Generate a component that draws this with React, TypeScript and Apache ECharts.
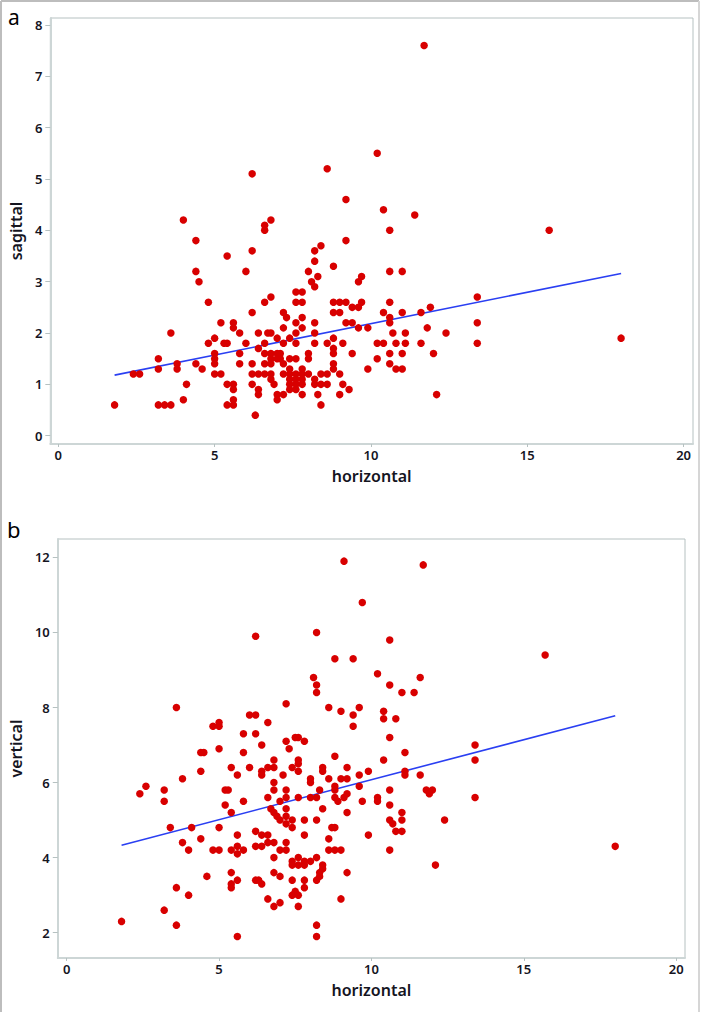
import React, { useEffect, useRef } from "react";
import * as echarts from "echarts";

// Panel a: horizontal vs sagittal
const sagittalPoints: [number, number][] = [
  [1.8, 0.6], [2.4, 1.2], [2.6, 1.2], [3.2, 1.5], [3.2, 1.3], [3.2, 0.6], [3.4, 0.6], [3.6, 0.6], [3.6, 2.0],
  [3.8, 1.4], [3.8, 1.3], [4.0, 0.7], [4.1, 1.0], [4.4, 1.4], [4.4, 3.2], [4.5, 3.0], [4.6, 1.3], [4.0, 4.2], [4.4, 3.8],
  [4.8, 2.6], [4.8, 1.8], [5.0, 1.9], [5.0, 1.6], [5.0, 1.5], [5.0, 1.4], [5.0, 1.2], [5.2, 1.2], [5.2, 2.2], [5.3, 1.8],
  [5.4, 1.8], [5.4, 3.5], [5.4, 1.0], [5.4, 0.6], [5.6, 2.2], [5.6, 2.1], [5.6, 1.0], [5.6, 0.9], [5.6, 0.7], [5.6, 0.6],
  [5.8, 2.0], [5.8, 1.6], [5.8, 1.4], [6.0, 3.2], [6.0, 1.8], [6.2, 5.1], [6.2, 3.6], [6.2, 2.4], [6.2, 1.4], [6.2, 1.2],
  [6.2, 1.0], [6.3, 0.4], [6.4, 2.0], [6.4, 1.7], [6.4, 1.2], [6.4, 0.9], [6.4, 0.8],
  [6.6, 4.1], [6.6, 4.0], [6.6, 2.6], [6.6, 1.8], [6.6, 1.6], [6.6, 1.4], [6.6, 1.2], [6.7, 2.0], [6.8, 4.2], [6.8, 2.7],
  [6.8, 2.0], [6.8, 1.6], [6.8, 1.5], [6.8, 1.4], [6.8, 1.2], [6.8, 1.1], [6.9, 1.0],
  [7.0, 1.9], [7.0, 1.6], [7.0, 1.5], [7.0, 0.8], [7.0, 0.7], [7.1, 1.6], [7.1, 1.5], [7.2, 2.4], [7.2, 2.1], [7.2, 1.8],
  [7.2, 1.4], [7.2, 1.2], [7.2, 0.8], [7.3, 2.3],
  [7.4, 1.9], [7.4, 1.5], [7.4, 1.3], [7.4, 1.2], [7.4, 1.1], [7.4, 1.0], [7.4, 0.9], [7.6, 2.8], [7.6, 2.6], [7.6, 2.2],
  [7.6, 2.0], [7.6, 1.8], [7.6, 1.5], [7.6, 1.2], [7.6, 1.1], [7.6, 1.0], [7.6, 0.9],
  [7.8, 2.8], [7.8, 2.6], [7.8, 2.3], [7.8, 2.1], [7.8, 1.3], [7.8, 1.2], [7.8, 1.1], [7.8, 1.0], [7.8, 0.8],
  [8.0, 3.2], [8.0, 1.6], [8.0, 1.5], [8.0, 1.2],
  [8.1, 3.0], [8.2, 3.6], [8.2, 3.4], [8.2, 2.9], [8.2, 2.2], [8.2, 2.0], [8.2, 1.8], [8.2, 1.1], [8.2, 1.0], [8.3, 3.1],
  [8.3, 0.8], [8.4, 3.7], [8.4, 1.2], [8.4, 1.0], [8.4, 0.6], [8.6, 5.2], [8.6, 1.8], [8.6, 1.2], [8.6, 1.0],
  [8.8, 3.3], [8.8, 2.6], [8.8, 2.4], [8.8, 1.9], [8.8, 1.7], [8.8, 1.6], [8.8, 1.4], [8.8, 1.3], [9.0, 2.6], [9.0, 2.4],
  [9.0, 1.2], [9.0, 0.8], [9.1, 1.8], [9.1, 1.0], [9.2, 4.6], [9.2, 3.8], [9.2, 2.6], [9.2, 2.2], [9.3, 0.9],
  [9.4, 2.5], [9.4, 2.2], [9.4, 1.6], [9.6, 3.0], [9.6, 2.5], [9.6, 2.1], [9.7, 3.1], [9.7, 2.6], [9.9, 2.1], [9.9, 1.3],
  [10.2, 5.5], [10.2, 1.8], [10.2, 1.5], [10.4, 4.4], [10.4, 2.4], [10.4, 1.8], [10.6, 4.0], [10.6, 3.2], [10.6, 2.6],
  [10.6, 2.3], [10.6, 2.2], [10.6, 1.6], [10.6, 1.4], [10.7, 2.0], [10.8, 1.8], [10.8, 1.3],
  [11.0, 3.2], [11.0, 2.4], [11.0, 1.6], [11.0, 1.3], [11.1, 2.0], [11.1, 1.8], [11.4, 4.3], [11.6, 2.4], [11.6, 1.8],
  [11.7, 7.6], [11.8, 2.1], [11.9, 2.5], [12.0, 1.6], [12.1, 0.8], [12.4, 2.0],
  [13.4, 2.7], [13.4, 2.2], [13.4, 1.8], [15.7, 4.0], [18.0, 1.9],
];

// Panel b: horizontal vs vertical
const verticalPoints: [number, number][] = [
  [1.8, 2.3], [2.4, 5.7], [2.6, 5.9], [3.2, 5.8], [3.2, 5.5], [3.2, 2.6], [3.4, 4.8], [3.6, 8.0], [3.6, 3.2], [3.6, 2.2],
  [3.8, 6.1], [3.8, 4.4], [4.0, 4.2], [4.0, 3.0], [4.1, 4.8], [4.4, 6.3], [4.4, 4.5], [4.4, 6.8], [4.5, 6.8], [4.6, 3.5],
  [4.8, 7.5], [4.8, 4.2], [5.0, 7.6], [5.0, 7.5], [5.0, 6.9], [5.0, 4.8], [5.0, 4.2], [5.2, 5.8], [5.3, 5.8], [5.2, 5.4],
  [5.4, 6.4], [5.4, 5.2], [5.4, 4.2], [5.4, 3.6], [5.4, 3.3], [5.4, 3.2],
  [5.6, 6.2], [5.6, 4.6], [5.6, 4.3], [5.6, 4.1], [5.6, 3.4], [5.6, 1.9], [5.8, 7.3], [5.8, 6.8], [5.8, 5.5], [5.8, 4.2],
  [6.0, 7.8], [6.0, 6.4],
  [6.2, 9.9], [6.2, 7.8], [6.2, 7.3], [6.2, 4.7], [6.2, 4.3], [6.2, 3.4], [6.3, 3.4], [6.4, 7.0], [6.4, 6.3], [6.4, 6.2],
  [6.4, 4.6], [6.4, 4.3], [6.4, 3.3],
  [6.6, 7.6], [6.6, 6.4], [6.6, 5.6], [6.6, 4.6], [6.6, 4.4], [6.6, 2.9], [6.7, 5.3], [6.8, 6.6], [6.8, 6.4], [6.8, 6.0],
  [6.8, 5.8], [6.8, 5.2], [6.8, 4.4], [6.8, 4.0], [6.8, 3.6], [6.8, 2.7], [6.9, 5.1],
  [7.0, 5.5], [7.0, 5.0], [7.0, 4.2], [7.0, 3.5], [7.0, 2.8], [7.1, 6.2], [7.2, 8.1], [7.2, 7.1], [7.2, 5.8], [7.2, 5.6],
  [7.2, 5.3], [7.2, 5.1], [7.2, 4.9], [7.2, 4.4], [7.2, 4.2], [7.3, 6.9],
  [7.4, 6.4], [7.4, 5.0], [7.4, 4.8], [7.4, 3.9], [7.4, 3.8], [7.4, 3.4], [7.4, 3.0], [7.5, 7.2], [7.5, 3.1], [7.6, 7.2],
  [7.6, 6.6], [7.6, 6.5], [7.6, 6.3], [7.6, 5.6], [7.6, 4.0], [7.6, 3.8], [7.6, 3.0], [7.6, 2.7],
  [7.8, 7.1], [7.8, 5.0], [7.8, 4.6], [7.8, 3.9], [7.8, 3.8], [7.8, 3.4], [7.8, 3.2], [8.0, 6.1], [8.0, 6.0], [8.0, 5.6],
  [8.0, 3.9],
  [8.1, 8.8], [8.2, 10.0], [8.2, 8.6], [8.2, 8.4], [8.2, 5.6], [8.2, 5.0], [8.2, 4.0], [8.2, 3.4], [8.2, 2.2], [8.2, 1.9],
  [8.3, 5.8], [8.3, 3.6], [8.3, 3.5], [8.4, 6.4], [8.4, 6.3], [8.4, 5.3], [8.4, 3.8], [8.4, 3.7],
  [8.6, 8.0], [8.6, 6.1], [8.6, 4.5], [8.6, 4.2], [8.7, 4.8], [8.8, 9.3], [8.8, 6.7], [8.8, 5.9], [8.8, 5.8], [8.8, 5.6],
  [8.8, 4.8], [8.8, 4.2], [8.9, 5.5],
  [9.0, 7.9], [9.0, 6.1], [9.0, 4.2], [9.0, 2.9], [9.1, 11.9], [9.1, 5.6], [9.2, 6.4], [9.2, 6.1], [9.2, 5.7], [9.2, 5.2],
  [9.2, 3.6], [9.4, 9.3], [9.4, 7.8], [9.4, 7.5],
  [9.6, 8.0], [9.6, 6.2], [9.6, 5.9], [9.7, 10.8], [9.7, 5.5], [9.9, 6.3], [9.9, 4.6], [10.2, 8.9], [10.2, 5.6], [10.2, 5.5],
  [10.4, 7.9], [10.4, 7.7], [10.4, 6.6],
  [10.6, 9.8], [10.6, 8.6], [10.6, 7.2], [10.6, 5.8], [10.6, 5.4], [10.6, 5.0], [10.6, 4.2], [10.7, 4.9], [10.8, 7.7],
  [10.8, 4.7], [11.0, 8.4], [11.0, 5.2], [11.0, 5.0], [11.0, 4.7], [11.1, 6.8], [11.1, 6.3], [11.1, 6.2],
  [11.4, 8.4], [11.6, 8.8], [11.6, 6.2], [11.7, 11.8], [11.8, 5.8], [11.9, 5.7], [12.0, 5.8], [12.1, 3.8], [12.4, 5.0],
  [13.4, 7.0], [13.4, 6.6], [13.4, 5.6], [15.7, 9.4], [18.0, 4.3],
];

// Fitted regression lines (end points)
const sagittalFit: [number, number][] = [[1.8, 1.18], [18.0, 3.16]];
const verticalFit: [number, number][] = [[1.8, 4.33], [18.0, 7.78]];

// Tick labels
const horizontalTicks = [0, 5, 10, 15, 20];
const sagittalTicks = [0, 1, 2, 3, 4, 5, 6, 7, 8];
const verticalTicks = [2, 4, 6, 8, 10, 12];

const FONT = "'Noto Sans', 'Open Sans', sans-serif";
const AXIS_COLOR = "#cdd6d6";
const BORDER_COLOR = "#b6c1c1";
const TEXT_COLOR = "#15151f";
const POINT_COLOR = "#d80000";
const LINE_COLOR = "#2a3ff2";

function xAxisFor(gridIndex: number, min: number, max: number, nameGap: number) {
  return {
    type: "value",
    gridIndex,
    min,
    max,
    name: "horizontal",
    nameLocation: "middle",
    nameGap,
    nameTextStyle: { fontSize: 16, fontWeight: 600, color: TEXT_COLOR, fontFamily: FONT },
    axisLine: { show: true, onZero: false, lineStyle: { color: AXIS_COLOR, width: 2 } },
    axisTick: { show: true, length: 3, customValues: horizontalTicks, lineStyle: { color: BORDER_COLOR } },
    axisLabel: { customValues: horizontalTicks, margin: 4, fontSize: 13, fontWeight: 600, color: TEXT_COLOR, fontFamily: FONT },
    splitLine: { show: false },
  };
}

function yAxisFor(gridIndex: number, min: number, max: number, name: string, ticks: number[], nameGap: number) {
  return {
    type: "value",
    gridIndex,
    min,
    max,
    name,
    nameLocation: "middle",
    nameGap,
    nameRotate: 90,
    nameTextStyle: { fontSize: 16, fontWeight: 600, color: TEXT_COLOR, fontFamily: FONT },
    axisLine: { show: true, onZero: false, lineStyle: { color: AXIS_COLOR, width: 2 } },
    axisTick: { show: true, length: 5, customValues: ticks, lineStyle: { color: BORDER_COLOR } },
    axisLabel: { customValues: ticks, margin: 8, fontSize: 13, fontWeight: 600, color: TEXT_COLOR, fontFamily: FONT },
    splitLine: { show: false },
  };
}

export default function App() {
  const ref = useRef<HTMLDivElement>(null);

  useEffect(() => {
    if (!ref.current) return;
    const chart = echarts.init(ref.current, null, { renderer: "svg" });
    chart.setOption({
      animation: false,
      backgroundColor: "#ffffff",
      grid: [
        { left: 48, top: 18, width: 645, height: 426, show: true, borderColor: BORDER_COLOR, borderWidth: 1 },
        { left: 53, top: 539, width: 632, height: 419, show: true, borderColor: BORDER_COLOR, borderWidth: 1 },
      ],
      xAxis: [xAxisFor(0, -0.255, 20.3, 24), xAxisFor(1, -0.293, 20.29, 24)],
      yAxis: [
        yAxisFor(0, -0.162, 8.136, "sagittal", sagittalTicks, 23),
        yAxisFor(1, 1.325, 12.49, "vertical", verticalTicks, 27),
      ],
      graphic: [
        { type: "line", shape: { x1: 1, y1: 1, x2: 699, y2: 1 }, style: { stroke: "#bdbdbd", lineWidth: 2 } },
        { type: "line", shape: { x1: 1, y1: 1, x2: 1, y2: 1012 }, style: { stroke: "#bdbdbd", lineWidth: 2 } },
        { type: "line", shape: { x1: 699, y1: 1, x2: 699, y2: 1012 }, style: { stroke: "#d6d6d6", lineWidth: 2 } },
        { type: "text", left: 8, top: 6, style: { text: "a", fontSize: 21, fill: "#000", fontFamily: FONT } },
        { type: "text", left: 7, top: 518, style: { text: "b", fontSize: 22, fill: "#000", fontFamily: FONT } },
      ],
      series: [
        {
          type: "line",
          xAxisIndex: 0,
          yAxisIndex: 0,
          data: sagittalFit,
          showSymbol: false,
          symbol: "none",
          lineStyle: { color: LINE_COLOR, width: 1.6 },
          z: 2,
        },
        {
          type: "scatter",
          xAxisIndex: 0,
          yAxisIndex: 0,
          data: sagittalPoints,
          symbolSize: 7.5,
          itemStyle: { color: POINT_COLOR, opacity: 1 },
          z: 3,
        },
        {
          type: "line",
          xAxisIndex: 1,
          yAxisIndex: 1,
          data: verticalFit,
          showSymbol: false,
          symbol: "none",
          lineStyle: { color: LINE_COLOR, width: 1.6 },
          z: 2,
        },
        {
          type: "scatter",
          xAxisIndex: 1,
          yAxisIndex: 1,
          data: verticalPoints,
          symbolSize: 7.5,
          itemStyle: { color: POINT_COLOR, opacity: 1 },
          z: 3,
        },
      ],
    });
    return () => chart.dispose();
  }, []);

  return (
    <div
      ref={ref}
      style={{ position: "absolute", left: 0, top: 0, width: 701, height: 1012, background: "#fff" }}
    />
  );
}
